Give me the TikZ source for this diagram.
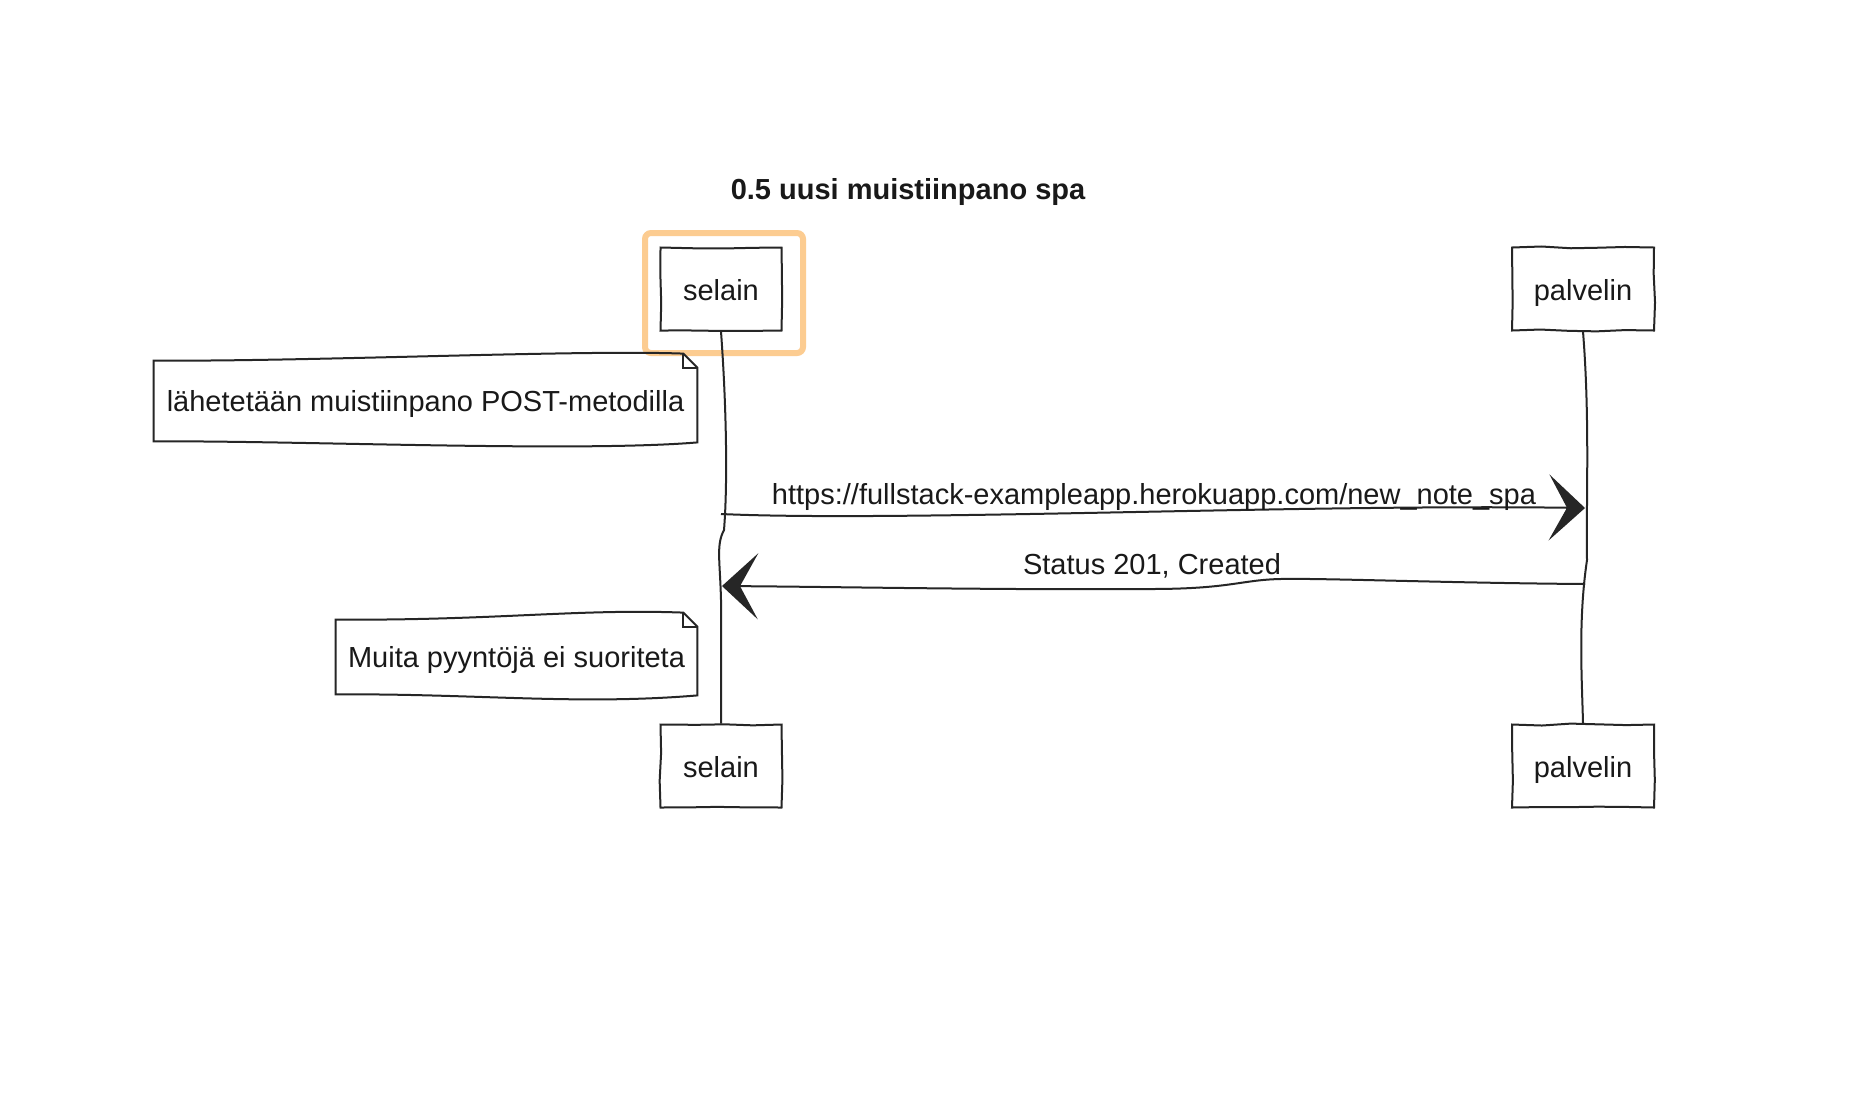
\documentclass[tikz,border=0pt]{standalone}
\usepackage{fontspec}
\setmainfont{Liberation Sans}
\usetikzlibrary{arrows.meta,decorations.pathmorphing}
\definecolor{hlorange}{RGB}{252,204,145}
\newcommand\sknote[1]{%
 \draw[ln] ([yshift=-3.5pt]#1.north west)
   .. controls ([xshift=80pt,yshift=-4pt]#1.north west) and ([xshift=-60pt,yshift=2pt]#1.north east) .. ([xshift=-7pt]#1.north east)
   -- ([yshift=-7pt]#1.north east)
   -- ([yshift=2pt]#1.south east)
   .. controls ([xshift=-60pt,yshift=-3pt]#1.south east) and ([xshift=70pt,yshift=3pt]#1.south west) .. ([yshift=2.5pt]#1.south west)
   -- cycle;
 \draw[ln] ([xshift=-7pt]#1.north east) -- ([xshift=-7pt,yshift=-7pt]#1.north east) -- ([yshift=-7pt]#1.north east);
}
\begin{document}
\begin{tikzpicture}[x=0.5pt,y=-0.5pt,
  every node/.style={font=\fontsize{14.5}{17}\selectfont, text=black!90},
  ln/.style={line width=1pt, draw=black!85},
  box/.style={draw, ln, rectangle, minimum height=41.5pt, inner sep=0pt,
    text height=14pt, text depth=3pt,
    decorate, decoration={random steps, segment length=14pt, amplitude=0.6pt}},
  notetext/.style={inner sep=0pt, text height=14pt, text depth=3pt},
  msg/.style={ln, -{Stealth[length=18pt, width=33pt, inset=9pt]}},
  hl/.style={draw=hlorange, line width=3pt, rounded corners=3pt}
]
\pgfmathsetseed{11}
\useasboundingbox (0,0) rectangle (1874,1094);
\fill[white] (0,0) rectangle (1874,1094);

% title
\node[font=\fontsize{14.5}{17}\selectfont\bfseries] (title) at (908,192) {0.5 uusi muistiinpano spa};

% highlight
\draw[hl] (645,233) rectangle (803,353);

% participants
\node[box, minimum width=60.5pt] (s1) at (721,289) {selain};
\node[box, minimum width=71pt] (p1) at (1583,289) {palvelin};
\node[box, minimum width=60.5pt] (s2) at (721,766) {selain};
\node[box, minimum width=71pt] (p2) at (1583,766) {palvelin};

% lifelines
\draw[ln] (s1.south) .. controls (726,400) and (728,480) .. (724,530)
  .. controls (716,545) and (720,560) .. (721,600) -- (s2.north);
\draw[ln] (p1.south) .. controls (1590,420) and (1586,500) .. (1587,560)
  .. controls (1578,620) and (1582,680) .. (p2.north);

% message coordinates
\coordinate (m1a) at (721,514);
\coordinate (m1b) at (1585,508);
\coordinate (m2a) at (1585,584);
\coordinate (m2b) at (722,586);

\draw[msg] (m1a) .. controls (900,522) and (1300,504) .. (m1b);
\node (l1) at (1154,497) {https://fullstack-exampleapp.herokuapp.com/new\_note\_spa};

\draw[msg] (m2a) .. controls (1450,583) and (1320,578) .. (1280,579)
  .. controls (1240,580) and (1230,589) .. (1150,589)
  .. controls (1000,590) and (850,587) .. (m2b);
\node (l2) at (1152,566) {Status 201, Created};

% notes
\node[notetext, minimum width=271.5pt, minimum height=46pt] (n1) at (425.5,400) {lähetetään muistiinpano POST-metodilla};
\sknote{n1}
\node[notetext, minimum width=180.5pt, minimum height=43pt] (n2) at (516.5,656) {Muita pyyntöjä ei suoriteta};
\sknote{n2}
\end{tikzpicture}
\end{document}
